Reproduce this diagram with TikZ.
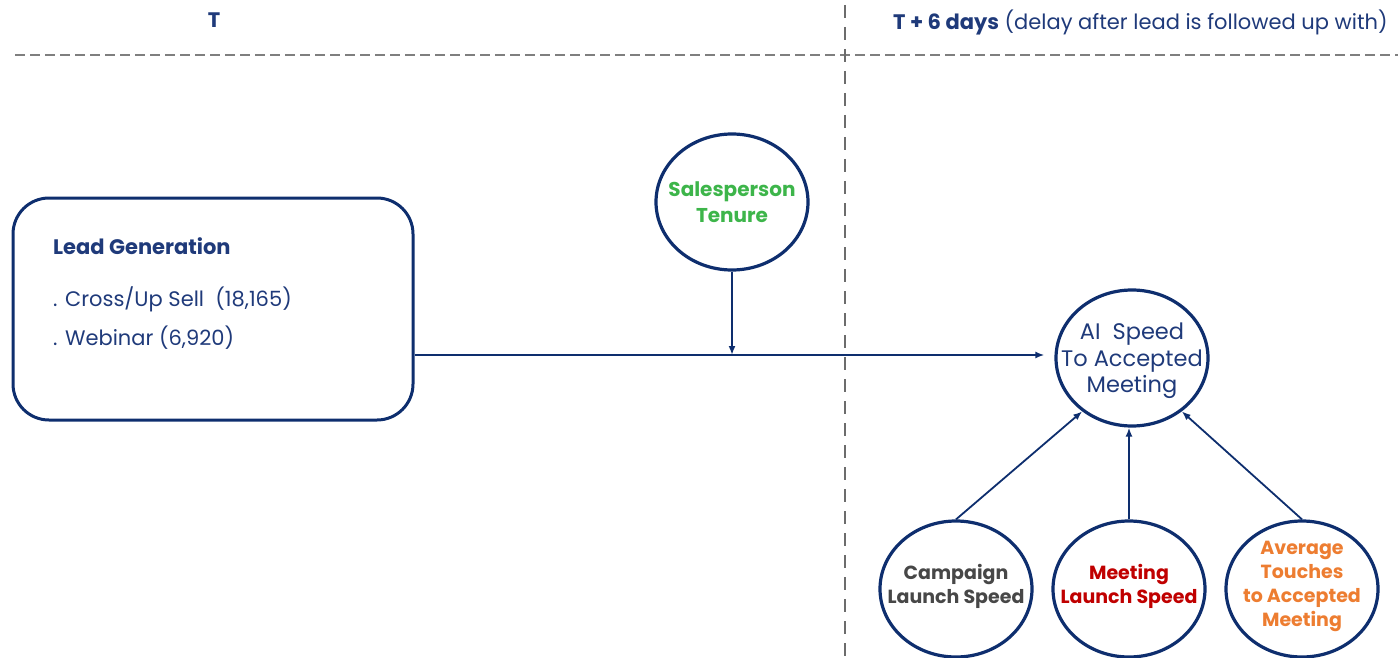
\documentclass[tikz,border=0pt]{standalone}
\usepackage{fontspec}
\setmainfont{Poppins}
\usetikzlibrary{arrows.meta,shapes.geometric}
\definecolor{navy}{HTML}{0E2E6E}
\definecolor{txtblue}{HTML}{1F3A7A}
\definecolor{tgreen}{HTML}{3DB54A}
\definecolor{tgray}{HTML}{474747}
\definecolor{tred}{HTML}{C00000}
\definecolor{torange}{HTML}{ED7D31}
\definecolor{dashgray}{HTML}{7F7F7F}
\tikzset{
  box/.style={draw=navy, line width=3pt, rounded corners=36pt, minimum width=400pt, minimum height=222pt},
  bubble/.style={draw=navy, line width=3.2pt, ellipse, minimum width=152pt, minimum height=136pt, inner sep=0pt},
  caption/.style={align=center, inner sep=0pt},
  conn/.style={draw=navy, line width=1.8pt, -{Latex[length=9pt,width=7pt]}},
  bold lbl/.style={font=\fontsize{19}{24}\selectfont\bfseries},
  body/.style={anchor=west, text=txtblue, inner sep=0pt, font=\fontsize{21}{24}\selectfont},
}
\begin{document}
\begin{tikzpicture}[x=1pt,y=-1pt]
\useasboundingbox (0,0) rectangle (1398,658);

% time axis separators
\draw[dashgray, line width=2pt, dash pattern=on 10pt off 5pt] (15,55) -- (1398,55);
\draw[tgray!80, line width=1.4pt, dash pattern=on 13pt off 9pt] (845,5) -- (845,658);

% period headings
\node[text=txtblue, font=\fontsize{21}{24}\selectfont\bfseries] (tnow) at (214,20) {T};
\node[body] (tlater) at (893,22)
  {\textbf{T + 6 days} (delay after lead is followed up with)};

% lead generation source
\node[box] (lead) at (213,309) {};
\node[body, font=\fontsize{21}{24}\selectfont\bfseries] (leadtitle) at (53,246) {Lead Generation};
\node[body] (cross) at (53,299) {. Cross/Up Sell\ \ (18,165)};
\node[body] (web) at (53,338) {. Webinar (6,920)};

% factor bubbles
\node[bubble] (tenure) at (732,202) {};
\node[bubble] (ai) at (1132,358) {};
\node[bubble] (camp) at (956,589) {};
\node[bubble] (meet) at (1129,589) {};
\node[bubble] (avg) at (1302,589) {};

% bubble captions
\node[caption, text=tgreen, font=\fontsize{20}{26}\selectfont\bfseries] (tenuretxt) at (tenure) {Salesperson\\Tenure};
\node[caption, text=txtblue, font=\fontsize{22.5}{26.5}\selectfont] (aitxt) at ([yshift=-3pt]ai.center) {AI\ \ Speed\\To Accepted\\Meeting};
\node[caption, text=tgray, bold lbl] (camptxt) at ([yshift=3pt]camp.center) {Campaign\\Launch Speed};
\node[caption, text=tred, bold lbl] (meettxt) at ([yshift=3pt]meet.center) {Meeting\\Launch Speed};
\node[caption, text=torange, bold lbl] (avgtxt) at ([yshift=3pt]avg.center) {Average\\Touches\\to Accepted\\Meeting};

% flows
\coordinate (out) at ([yshift=-46pt]lead.east);
\coordinate (join) at (tenure.south |- out);
\draw[conn] (out) -- ([xshift=-10pt]ai.west |- out);
\draw[conn] (tenure.south) -- (join);
\draw[conn] (camp.north) -- (ai.-133);
\draw[conn] (meet.north) -- (meet.north |- ai.south);
\draw[conn] (avg.north) -- (ai.-47);
\end{tikzpicture}
\end{document}
